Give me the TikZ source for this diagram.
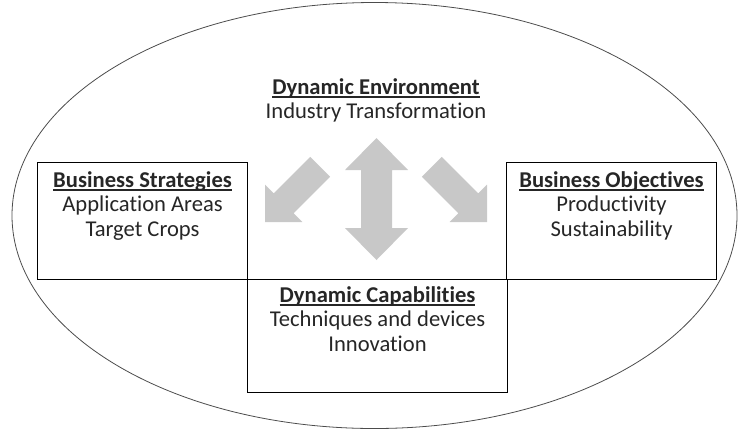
\documentclass[tikz,border=0pt]{standalone}
\usepackage{fontspec}
\setmainfont{Carlito}[Ligatures=NoCommon]
\usepackage{tikz}
\usetikzlibrary{positioning}
\usetikzlibrary{shapes.geometric}

\definecolor{arrowgray}{HTML}{C8C8C8}
\definecolor{inkgray}{HTML}{262626}
\newcommand{\uhead}[1]{\setbox0\hbox{\bfseries #1}\rlap{\vrule width \wd0 height -2.2pt depth 3.8pt}\box0}

\tikzset{
  panel/.style={draw=black, line width=1.1pt, inner sep=0pt, anchor=north west},
  paneltext/.style={align=center, text=inkgray, inner sep=0pt, font=\fontsize{22.6}{24.8}\selectfont},
  bigarrow/.style={fill=arrowgray, draw=none}
}

\begin{document}
\begin{tikzpicture}[x=1pt, y=-1pt]
    \useasboundingbox (0,0) rectangle (738,432);
    \node[draw=black!70, line width=0.8pt, ellipse, minimum width=725pt, minimum height=426pt, inner sep=0pt] (world) at (374.5,215.5) {};

    \node[panel, minimum width=210pt, minimum height=117pt] (strategies) at (37,162) {};
    \node[panel, minimum width=210pt, minimum height=117pt] (objectives) at (506,162) {};
    \node[panel, minimum width=260pt, minimum height=113pt] (capabilities) at (247,279) {};

    \node[paneltext, below=9pt of strategies.north] (strattext) {\uhead{Business Strategies}\\Application Areas\\Target Crops};
    \node[paneltext, below=9pt of objectives.north] (objtext) {\uhead{Business Objectives}\\Productivity\\Sustainability};
    \node[paneltext, below=7pt of capabilities.north] (captext) {\uhead{Dynamic Capabilities}\\Techniques and devices\\Innovation};
    \node[paneltext, anchor=north] (envtext) at (376,78) {\uhead{Dynamic Environment}\\Industry Transformation};

    % block arrows
    \path[bigarrow] (376.5,138) -- ++(31.5,32) -- ++(-16,0) -- ++(0,58) -- ++(16,0) -- ++(-31.5,32)
        -- ++(-31.5,-32) -- ++(16,0) -- ++(0,-58) -- ++(-16,0) -- cycle;
    \path[bigarrow] (265,222) -- (302.4,222) -- (293.6,213.2) -- (330.1,176.7) -- (310.3,156.9)
        -- (273.8,193.4) -- (265,184.6) -- cycle;
    \path[bigarrow] (487,222) -- (449.6,222) -- (458.4,213.2) -- (421.9,176.7) -- (441.7,156.9)
        -- (478.2,193.4) -- (487,184.6) -- cycle;
\end{tikzpicture}
\end{document}
